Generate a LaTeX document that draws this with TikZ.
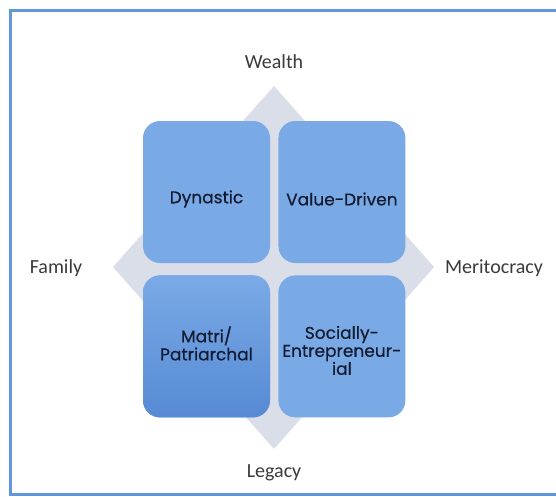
\documentclass[tikz,border=0pt]{standalone}
\usepackage{fontspec}
\setmainfont{Carlito}
\newfontfamily\quadfont[FakeBold=0.6]{Poppins}
\usetikzlibrary{positioning}

\definecolor{quadblue}{RGB}{122,170,230}
\definecolor{quaddark}{RGB}{86,138,212}
\definecolor{rhombgray}{RGB}{218,222,233}
\definecolor{frameblue}{RGB}{98,150,218}
\definecolor{labelgray}{RGB}{58,58,58}
\definecolor{quadtext}{RGB}{20,28,50}

\tikzset{
  quad/.style={fill=quadblue, rounded corners=17pt, minimum width=127pt,
    minimum height=142pt, inner sep=0pt},
  quadlabel/.style={align=center, text=quadtext,
    font=\quadfont\fontsize{17}{18}\selectfont},
  axislabel/.style={text=labelgray, font=\fontsize{20}{24}\selectfont}
}

\begin{document}
\begin{tikzpicture}[x=1pt,y=-1pt]
        \useasboundingbox (0,0) rectangle (556,496);

        % Outer frame
        \draw[frameblue, line width=3pt] (560,10) -- (10,10) -- (10,494) -- (560,494);

        % Define rhombus corners
        \coordinate (N) at (274,86);
        \coordinate (E) at (434,267);
        \coordinate (S) at (274,449);
        \coordinate (W) at (113,267);

        % Draw rhombus behind the quadrants
        \fill[rhombgray] (N) -- (E) -- (S) -- (W) -- cycle;

        % Draw the four quadrants
        \node[quad] (dyn) at (206.5,192) {};
        \node[quad, right=8pt of dyn] (val) {};
        \node[quad, below=12pt of dyn, top color=quadblue, middle color=quadblue,
          bottom color=quaddark] (mat) {};
        \node[quad, below=12pt of val] (soc) {};

        % Quadrant texts
        \node[quadlabel, yshift=-7pt] (dyn-text) at (dyn) {Dynastic};
        \node[quadlabel, yshift=-7pt] (val-text) at (val) {Value-Driven};
        \node[quadlabel, yshift=3pt] (mat-text) at (mat) {Matri/\\Patriarchal};
        \node[quadlabel, yshift=-4pt] (soc-text) at (soc) {Socially-\\Entrepreneur-\\ial};

        % Axis labels
        \node[axislabel] (wealth) at (274,62) {Wealth};
        \node[axislabel] (family) at (56,268) {Family};
        \node[axislabel] (merit) at (494,268) {Meritocracy};
        \node[axislabel] (legacy) at (274,473) {Legacy};
\end{tikzpicture}
\end{document}
